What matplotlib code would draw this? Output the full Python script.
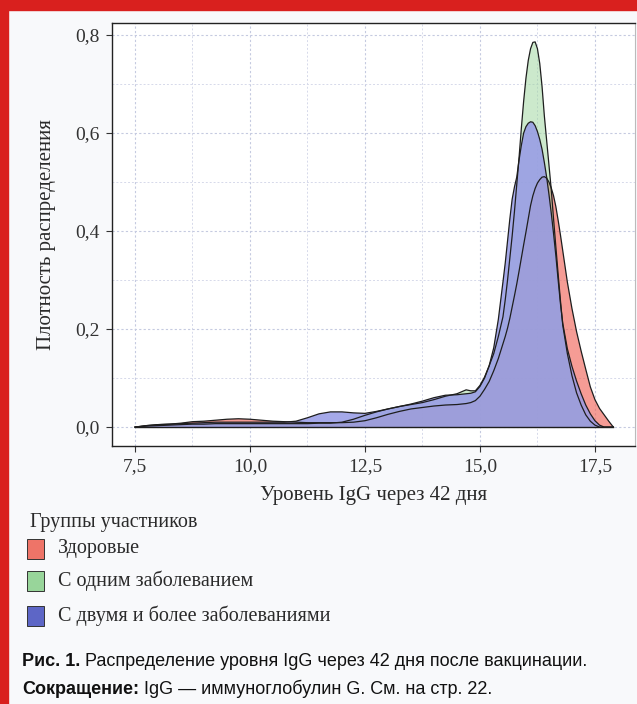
"""Density of IgG level 42 days after vaccination, by participant group."""
import numpy as np
import matplotlib
matplotlib.use('Agg')
import matplotlib.pyplot as plt
from matplotlib.patches import Rectangle
from matplotlib.ticker import FuncFormatter, MultipleLocator

# data
groups = ['Здоровые', 'С одним заболеванием', 'С двумя и более заболеваниями']
fill_colors = ['#F0685C', '#9AD49A', '#969AE6']
key_colors = ['#EE7468', '#98D59A', '#5D66C6']
fill_alpha = [0.65, 0.5, 0.85]

igg_level = np.round(np.concatenate([
    np.arange(7.5, 14.51, 0.25),
    np.arange(14.6, 15.51, 0.1),
    np.arange(15.55, 16.81, 0.05),
    np.arange(16.9, 17.91, 0.1),
]), 2)

density_healthy = [
    0.000, 0.003, 0.005, 0.006, 0.008, 0.011, 0.012, 0.014, 0.016, 0.017,
    0.016, 0.014, 0.012, 0.011, 0.010, 0.009, 0.009, 0.009, 0.009, 0.010,
    0.013, 0.019, 0.026, 0.032, 0.037, 0.040, 0.043, 0.045, 0.046,
    0.047, 0.048, 0.050, 0.054, 0.063, 0.077, 0.093, 0.115, 0.140, 0.170,
    0.185, 0.202, 0.222, 0.245, 0.268, 0.292, 0.318, 0.345, 0.372, 0.398,
    0.425, 0.452, 0.472, 0.487, 0.498, 0.505, 0.510, 0.511, 0.508, 0.500,
    0.488, 0.472, 0.450, 0.422, 0.392, 0.360,
    0.296, 0.242, 0.195, 0.155, 0.118, 0.082, 0.056, 0.038, 0.025, 0.012, 0.000,
]
density_one = [
    0.000, 0.002, 0.003, 0.004, 0.005, 0.006, 0.006, 0.007, 0.007, 0.007,
    0.007, 0.007, 0.007, 0.007, 0.007, 0.007, 0.008, 0.008, 0.010, 0.016,
    0.024, 0.031, 0.037, 0.042, 0.046, 0.050, 0.056, 0.063, 0.068,
    0.072, 0.076, 0.074, 0.074, 0.085, 0.102, 0.125, 0.150, 0.185, 0.225,
    0.260, 0.300, 0.345, 0.390, 0.440, 0.495, 0.550, 0.610, 0.665, 0.712,
    0.748, 0.772, 0.785, 0.786, 0.772, 0.742, 0.695, 0.635, 0.585, 0.535,
    0.485, 0.425, 0.368, 0.312, 0.258, 0.208,
    0.150, 0.105, 0.070, 0.045, 0.025, 0.012, 0.004, 0.000, 0.000, 0.000, 0.000,
]
density_two_plus = [
    0.000, 0.003, 0.005, 0.006, 0.007, 0.008, 0.009, 0.010, 0.010, 0.010,
    0.010, 0.010, 0.010, 0.010, 0.012, 0.019, 0.027, 0.031, 0.031, 0.029,
    0.028, 0.032, 0.037, 0.042, 0.047, 0.053, 0.060, 0.065, 0.066,
    0.067, 0.068, 0.069, 0.072, 0.083, 0.100, 0.125, 0.162, 0.220, 0.296,
    0.335, 0.380, 0.425, 0.465, 0.490, 0.510, 0.545, 0.575, 0.600, 0.613,
    0.620, 0.623, 0.622, 0.615, 0.603, 0.587, 0.567, 0.540, 0.510, 0.475,
    0.437, 0.395, 0.350, 0.300, 0.252, 0.212,
    0.160, 0.124, 0.094, 0.068, 0.045, 0.027, 0.013, 0.004, 0.000, 0.000, 0.000,
]
densities = [density_healthy, density_one, density_two_plus]

x_ticks = [7.5, 10.0, 12.5, 15.0, 17.5]
y_ticks = [0.0, 0.2, 0.4, 0.6, 0.8]

SERIF = ['Liberation Serif', 'DejaVu Serif']
SANS = ['Liberation Sans', 'DejaVu Sans']
TEXT = '#2A2A2A'

fig = plt.figure(figsize=(6.37, 7.04), dpi=100, facecolor='#F8F9FB')

# red page border of the scan
fig.patches.append(Rectangle((0, 0.986), 1, 0.014, transform=fig.transFigure,
                             color='#D9201E', zorder=0))
fig.patches.append(Rectangle((0, 0), 0.013, 1, transform=fig.transFigure,
                             color='#D9201E', zorder=0))

ax = fig.add_axes([0.1758, 0.3669, 0.8210, 0.6004])
ax.set_facecolor('white')

for dens, col, alpha in zip(densities, fill_colors, fill_alpha):
    ax.fill_between(igg_level, 0, dens, facecolor=col, alpha=alpha,
                    edgecolor='none', zorder=2)
    ax.plot(igg_level, dens, color='#1E1E1E', lw=0.9, zorder=3)
ax.axhline(0, xmin=(7.5 - 7.0) / 11.37, xmax=(17.9 - 7.0) / 11.37,
           color='#1E1E1E', lw=1.0, zorder=3)

ax.set_xlim(7.0, 18.37)
ax.set_ylim(-0.038, 0.8245)
ax.set_xticks(x_ticks)
ax.set_yticks(y_ticks)
ax.xaxis.set_minor_locator(MultipleLocator(1.25))
ax.yaxis.set_minor_locator(MultipleLocator(0.1))
comma = FuncFormatter(lambda v, pos: '{:.1f}'.format(v).replace('.', ','))
ax.xaxis.set_major_formatter(comma)
ax.yaxis.set_major_formatter(comma)

ax.grid(which='major', color='#C5CAE0', lw=0.8, linestyle=(0, (2, 2)), zorder=1)
ax.grid(which='minor', color='#D6D9EA', lw=0.7, linestyle=(0, (2, 2)), zorder=1)
ax.tick_params(which='minor', length=0)
ax.tick_params(which='major', length=4, width=0.8, color='#333333',
               labelsize=14, labelcolor='#333333', pad=5)
for lab in ax.get_xticklabels() + ax.get_yticklabels():
    lab.set_family(SERIF)

for side in ['left', 'bottom', 'top']:
    ax.spines[side].set_color('#222222')
    ax.spines[side].set_linewidth(1.0)
ax.spines['right'].set_color('#BBBBBB')
ax.spines['right'].set_linewidth(0.8)

ax.set_xlabel('Уровень IgG через 42 дня', family=SERIF, fontsize=15,
              color=TEXT, labelpad=8)
ax.set_ylabel('Плотность распределения', family=SERIF, fontsize=15,
              color=TEXT, labelpad=14)

# legend below the plot
fig.text(30 / 637, 1 - 522 / 704, 'Группы участников', family=SERIF,
         fontsize=14.5, color=TEXT, va='center', ha='left')
key_y = [549, 581, 616]
for name, col, yc in zip(groups, key_colors, key_y):
    fig.patches.append(Rectangle((27 / 637, 1 - (yc + 10) / 704), 17 / 637, 20 / 704,
                                 transform=fig.transFigure, facecolor=col,
                                 edgecolor='#333333', lw=0.7))
    fig.text(58 / 637, 1 - yc / 704, name, family=SERIF, fontsize=14.5,
             color=TEXT, va='center', ha='left')

# caption
renderer = fig.canvas.get_renderer()
captions = [('Рис. 1.', ' Распределение уровня IgG через 42 дня после вакцинации.', 662),
            ('Сокращение:', ' IgG — иммуноглобулин G. См. на стр. 22.', 689)]
for bold, rest, yc in captions:
    t = fig.text(22 / 637, 1 - yc / 704, bold, family=SANS, fontsize=13,
                 weight='bold', color='#111111', va='center', ha='left')
    bb = t.get_window_extent(renderer)
    fig.text(bb.x1 / fig.bbox.width, 1 - yc / 704, rest, family=SANS,
             fontsize=13, color='#111111', va='center', ha='left')

fig.savefig('out.png', dpi=100, facecolor=fig.get_facecolor())
